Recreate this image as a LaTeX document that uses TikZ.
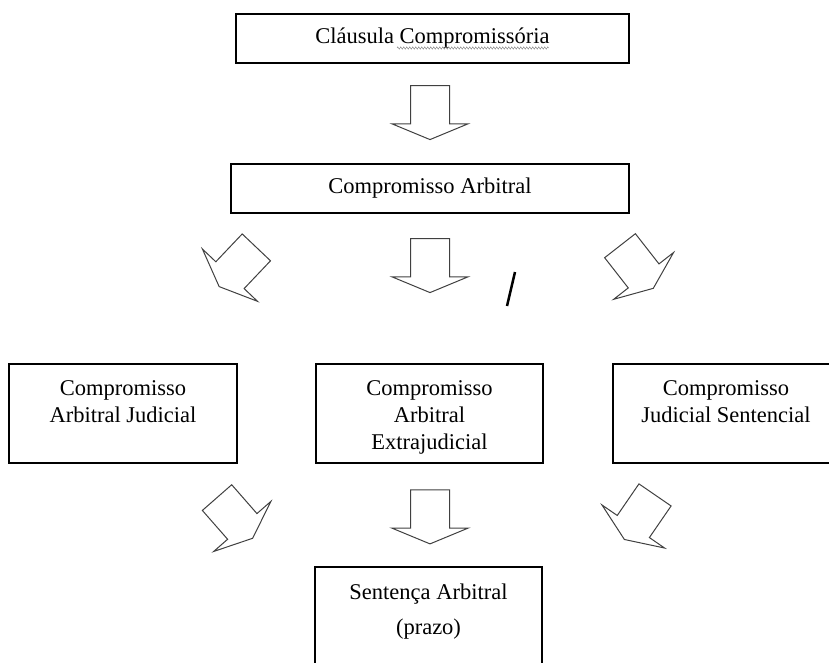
\documentclass[tikz,border=0pt]{standalone}
\usepackage{fontspec}
\setmainfont{Liberation Serif}
\usetikzlibrary{shapes.arrows, decorations.pathmorphing}

\begin{document}
\begin{tikzpicture}[x=1pt, y=-1pt,
  every node/.style={font=\fontsize{22.5}{27}\selectfont},
  caixa/.style={rectangle, draw=black, line width=1.3pt, inner sep=0pt},
  texto/.style={align=center, anchor=north, inner xsep=0pt, inner ysep=17pt},
  seta/.style={single arrow, draw=black!75, line width=1pt, anchor=tail,
    inner xsep=22.5pt, inner ysep=19pt, single arrow head extend=18.5pt,
    single arrow tip angle=135}]
\useasboundingbox (0,0) rectangle (829,662);
\clip (0,0) rectangle (829,662);

\node[caixa, minimum width=393, minimum height=49] (1) at (432.5,38.5) {Cláusula Compromissória};
\draw[gray, decorate, decoration={zigzag, amplitude=1.2pt, segment length=3pt}] (397,48) -- (549,48);
\node[caixa, minimum width=398, minimum height=49] (2) at (430,188.5) {Compromisso Arbitral};

\node[caixa, minimum width=228, minimum height=99] (3) at (123,413.5) {};
\node[caixa, minimum width=227, minimum height=99] (4) at (429.5,413.5) {};
\node[caixa, minimum width=226, minimum height=99] (5) at (726,413.5) {};
\node[texto] (3t) at (3.north) {Compromisso\\Arbitral Judicial};
\node[texto] (4t) at (4.north) {Compromisso\\Arbitral\\Extrajudicial};
\node[texto] (5t) at (5.north) {Compromisso\\Judicial Sentencial};

\node[caixa, minimum width=227, minimum height=99] (6) at (428.5,616.5) {};
\node[texto] (6t) at (6.north) {Sentença Arbitral\\[8pt](prazo)};

% setas
\node[seta, rotate=-90] (s1) at (430,85) {};
\node[seta, rotate=-133.5] (s2) at (256.7,247) {};
\node[seta, rotate=-90] (s3) at (430,238) {};
\node[seta, rotate=-52] (s4) at (619.7,245.3) {};
\node[seta, rotate=-48.8] (s5) at (216.7,497.2) {};
\node[seta, rotate=-90] (s6) at (430,489.3) {};
\node[seta, rotate=-124.5] (s7) at (655.3,494.5) {};

\draw[line width=2.5pt] (515,272) -- (507,306);
\end{tikzpicture}
\end{document}
